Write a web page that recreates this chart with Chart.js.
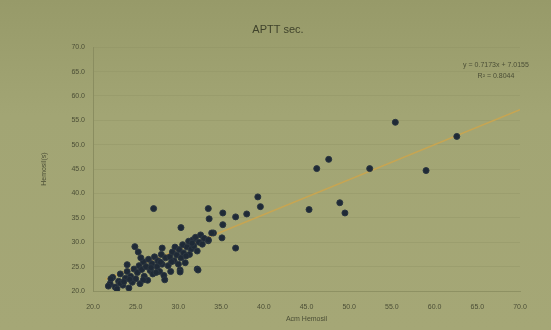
<!DOCTYPE html>
<html>
<head>
<meta charset="utf-8">
<script src="https://cdn.jsdelivr.net/npm/chart.js@4"></script>
<style>
  html, body { margin: 0; padding: 0; }
  body { width: 551px; height: 330px; overflow: hidden;
         background: linear-gradient(180deg, #979a69 0%, #a2a574 35%, #a5a776 100%); }
  #wrap { position: relative; width: 551px; height: 330px; }
  #eq { position: absolute; left: 446px; top: 59px; width: 100px; text-align: center;
        font: 7px "Liberation Sans", sans-serif; line-height: 11px; color: #4b4e36; }
</style>
</head>
<body>
<div id="wrap">
  <canvas id="chart" width="551" height="330"></canvas>
  <div id="eq">y = 0.7173x + 7.0155<br>R² = 0.8044</div>
</div>
<script>
"use strict";

// Acm Hemosil (x) vs Hemosil (y), seconds
const xVals = [
  55.4, 62.6, 47.6, 46.2, 52.4, 59.0, 39.3, 39.6, 45.3, 48.9, 49.5,
  27.1, 33.5, 35.2, 36.7, 38.0, 33.6, 35.2, 34.1, 35.1, 33.5, 36.7, 30.3, 32.2, 30.2,
  22.0, 22.3, 22.6, 23.0, 23.2, 23.5, 23.8, 24.0, 24.2, 24.4, 24.6, 24.8, 25.0, 24.9,
  25.3, 25.2, 25.4, 25.5, 25.7, 25.9, 26.0, 26.2, 26.4, 26.5, 26.7, 26.9, 27.0, 27.2,
  25.9, 27.5, 27.6, 27.8, 28.0, 28.1, 28.3, 28.5, 28.1, 28.8, 29.0, 29.1, 29.3, 29.5,
  29.6, 29.8, 30.0, 30.1, 30.3, 30.5, 30.6, 30.8, 31.0, 31.2, 31.3, 31.5, 31.7, 31.8,
  32.0, 32.2, 32.4, 32.6, 32.8, 33.0, 33.5, 33.9, 30.2, 32.3, 28.4, 23.2, 22.1, 21.8,
  22.8, 23.6, 24.3, 26.8, 27.4, 29.2, 30.9, 31.6, 24.0, 25.6, 27.9
];
const yVals = [
  54.6, 51.7, 47.0, 45.1, 45.1, 44.7, 39.3, 37.3, 36.7, 38.1, 36.0,
  36.9, 36.9, 36.0, 35.2, 35.8, 34.8, 33.6, 31.9, 30.9, 30.3, 28.8, 33.0, 24.5, 24.3,
  21.5, 22.8, 20.8, 22.0, 23.5, 21.2, 22.6, 24.0, 20.6, 23.0, 21.8, 24.5, 22.5, 29.1,
  28.0, 23.8, 25.2, 21.5, 24.4, 26.0, 23.0, 25.0, 22.2, 26.5, 24.2, 25.6, 23.5, 27.0,
  22.3, 25.0, 26.2, 24.0, 27.5, 25.5, 23.2, 26.8, 28.8, 25.2, 27.0, 24.0, 28.0, 26.2,
  29.0, 27.4, 25.5, 28.5, 26.8, 29.5, 27.8, 25.8, 29.0, 30.2, 27.5, 28.6, 30.5, 29.2,
  31.0, 28.2, 30.0, 31.5, 29.6, 30.8, 30.5, 31.9, 23.9, 24.3, 22.3, 21.6, 22.5, 21.0,
  20.4, 21.9, 22.4, 24.8, 23.8, 26.0, 27.2, 29.8, 25.4, 26.8, 25.9
];
const trendX = [21.5, 70.0];
const trendY = [22.4, 57.2];
const xTicks = [20, 25, 30, 35, 40, 45, 50, 55, 60, 65, 70];
const yTicks = [20, 25, 30, 35, 40, 45, 50, 55, 60, 65, 70];

const txt = "#4b4e36";
const points = xVals.map((x, i) => ({ x, y: yVals[i] }));
const trend = trendX.map((x, i) => ({ x, y: trendY[i] }));

new Chart(document.getElementById("chart"), {
  type: "scatter",
  data: {
    datasets: [
      { label: "APTT", data: points, backgroundColor: "#1f2a36", borderColor: "#2a3540", borderWidth: 1, pointRadius: 3, order: 1 },
      { type: "line", label: "Trend", data: trend, borderColor: "#c7a552", borderWidth: 1.5, pointRadius: 0, fill: false, order: 2 },
    ],
  },
  options: {
    responsive: false,
    animation: false,
    layout: { padding: { left: 36, right: 31, top: 0, bottom: 3 } },
    plugins: {
      legend: { display: false },
      tooltip: { enabled: false },
      title: {
        display: true, text: "APTT sec.", color: "#3f422b",
        font: { family: "Liberation Sans", size: 11, weight: "normal" }, padding: { top: 23, bottom: 11 },
      },
    },
    scales: {
      x: {
        type: "linear", min: 20, max: 70,
        afterBuildTicks: (s) => { s.ticks = xTicks.map((v) => ({ value: v })); },
        afterFit: (s) => { s.height = 36; },
        ticks: { color: txt, font: { family: "Liberation Sans", size: 7 }, padding: 4, callback: (v) => v.toFixed(1), maxRotation: 0 },
        grid: { display: false },
        border: { color: "#8e9163" },
        title: { display: true, text: "Acm Hemosil", color: txt, font: { family: "Liberation Sans", size: 7 }, padding: { top: 6 } },
      },
      y: {
        type: "linear", min: 20, max: 70,
        afterBuildTicks: (s) => { s.ticks = yTicks.map((v) => ({ value: v })); },
        afterFit: (s) => { s.width = 57; },
        ticks: { color: txt, font: { family: "Liberation Sans", size: 7 }, padding: 8, callback: (v) => v.toFixed(1) },
        grid: { color: "rgba(140,143,98,0.35)", drawTicks: false },
        border: { color: "#8a8d60" },
        title: { display: true, text: "Hemosil(s)", color: txt, font: { family: "Liberation Sans", size: 7 }, padding: { bottom: 10 } },
      },
    },
  },
});
</script>
</body>
</html>
